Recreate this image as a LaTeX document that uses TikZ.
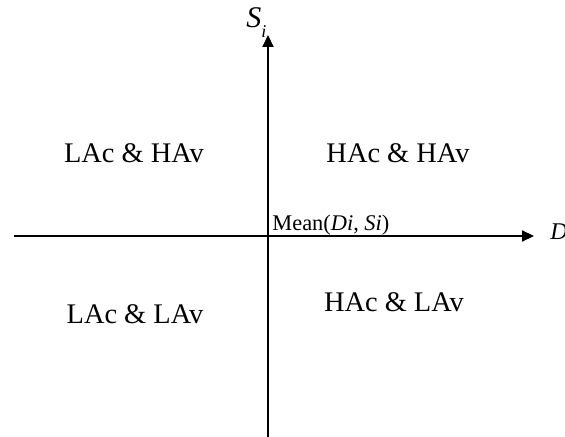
\documentclass[tikz,border=0pt]{standalone}
\usepackage{fontspec}
\setmainfont{Liberation Serif}
\usetikzlibrary{arrows.meta}

\begin{document}
\begin{tikzpicture}[
    x=0.5pt, y=-0.5pt,
    axis/.style={line width=1pt,-{Triangle[length=6pt,width=5.5pt]}},
    quad/.style={anchor=base,inner sep=0pt,font=\fontsize{14.2}{16}\selectfont},
    axlabel/.style={anchor=base west,inner sep=0pt,font=\fontsize{12}{14}\selectfont}
  ]
    \useasboundingbox (0,0) rectangle (565,437);

    \coordinate (xstart) at (14,236);
    \coordinate (xend)   at (534,236);
    \coordinate (ybot)   at (268,437);
    \coordinate (ytop)   at (268,35);

    \draw[axis] (xstart) -- (xend);
    \draw[axis] (ybot) -- (ytop);

    \node[axlabel,font=\fontsize{15}{17}\selectfont] (si) at (246,28) {\textit{S}\raisebox{-0.7ex}{\fontsize{9}{10}\selectfont\textit{i}}};
    \node[axlabel] (di) at (550,240) {\textit{D}};
    \node[axlabel,font=\fontsize{11.2}{13}\selectfont] (mean) at (272,231) {Mean(\textit{Di}, \textit{Si})};

    \node[quad] (lh) at (134,163) {LAc \& HAv};
    \node[quad] (hh) at (398,163) {HAc \& HAv};
    \node[quad] (ll) at (135,323) {LAc \& LAv};
    \node[quad] (hl) at (394,311) {HAc \& LAv};
  \end{tikzpicture}
\end{document}
